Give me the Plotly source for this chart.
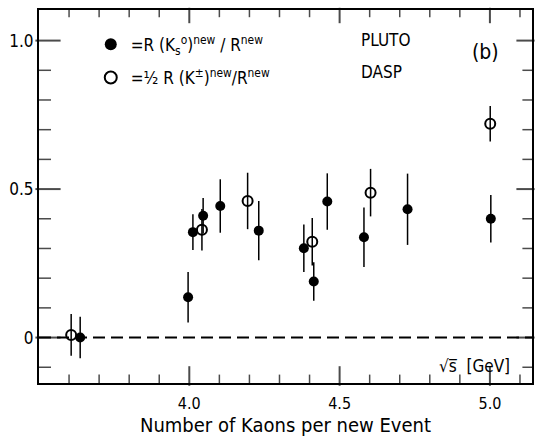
import plotly.graph_objects as go

# sqrt(s) [GeV] and values
ks_x = [3.637, 3.996, 4.012, 4.046, 4.103, 4.231, 4.381, 4.414, 4.459, 4.581, 4.726, 5.003]
ks_y = [0.00, 0.136, 0.355, 0.41, 0.443, 0.36, 0.301, 0.189, 0.458, 0.338, 0.432, 0.40]
ks_err = [0.07, 0.085, 0.06, 0.06, 0.09, 0.10, 0.08, 0.065, 0.095, 0.10, 0.12, 0.08]

kc_x = [3.607, 4.042, 4.194, 4.409, 4.603, 5.001]
kc_y = [0.009, 0.363, 0.46, 0.323, 0.488, 0.72]
kc_err = [0.07, 0.07, 0.095, 0.08, 0.08, 0.06]

xtick_vals = [4.0, 4.5, 5.0]
xtick_text = ["4.0", "4.5", "5.0"]
xminor_vals = [3.6, 3.7, 3.8, 3.9, 4.1, 4.2, 4.3, 4.4, 4.6, 4.7, 4.8, 4.9, 5.1]
ytick_vals = [0, 0.5, 1.0]
ytick_text = ["0", "0.5", "1.0"]
yminor_vals = [-0.1, 0.1, 0.2, 0.3, 0.4, 0.6, 0.7, 0.8, 0.9]

FONT = "DejaVu Sans Condensed, Liberation Sans Narrow, Arial Narrow, DejaVu Sans, sans-serif"

W, H = 537, 443
ML, MR, MT, MB = 39, 5, 10, 60
PW, PH = W - ML - MR, H - MT - MB
XR = [3.5, 5.14]
YR = [-0.153, 1.103]
XPX = (XR[1] - XR[0]) / PW
YPX = (YR[1] - YR[0]) / PH

fig = go.Figure()
fig.add_trace(go.Scatter(
    x=ks_x, y=ks_y, mode="markers", legendgroup="a",
    name="=R (K<sub>s</sub><sup>o</sup>)<sup>new</sup> / R<sup>new</sup>",
    marker=dict(symbol="circle", size=10, color="black"),
    error_y=dict(type="data", array=ks_err, color="black", thickness=1.5, width=0),
))
fig.add_trace(go.Scatter(
    x=kc_x, y=kc_y, mode="markers", legendgroup="b",
    name="=½ R (K<sup>±</sup>)<sup>new</sup>/R<sup>new</sup>",
    marker=dict(symbol="circle-open", size=10, color="black", line=dict(width=2)),
    error_y=dict(type="data", array=kc_err, color="black", thickness=1.5, width=0),
))

# inward tick marks on all four sides, as line-shaped markers on the axis scales
def x_ticks(vals, lb, lt, w):
    fig.add_trace(go.Scatter(
        x=list(vals) + list(vals),
        y=[YR[0] + lb / 2 * YPX] * len(vals) + [YR[1] - lt / 2 * YPX] * len(vals),
        mode="markers", showlegend=False, hoverinfo="skip", cliponaxis=False,
        marker=dict(symbol="line-ns", size=[lb] * len(vals) + [lt] * len(vals),
                    color="black", line=dict(color="black", width=w))))

def y_ticks(vals, ll, lr, w):
    fig.add_trace(go.Scatter(
        y=list(vals) + list(vals),
        x=[XR[0] + ll / 2 * XPX] * len(vals) + [XR[1] - lr / 2 * XPX] * len(vals),
        mode="markers", showlegend=False, hoverinfo="skip", cliponaxis=False,
        marker=dict(symbol="line-ew", size=[ll] * len(vals) + [lr] * len(vals),
                    color="black", line=dict(color="black", width=w))))

x_ticks(xtick_vals, 14, 11, 2)
x_ticks(xminor_vals, 7, 6, 1.5)
y_ticks(ytick_vals, 18, 13, 2)
y_ticks(yminor_vals, 10, 8, 1.5)

# zero reference line
fig.add_shape(type="line", xref="paper", x0=0, x1=1, yref="y", y0=0, y1=0,
              line=dict(color="black", width=2, dash="12px,6px"))

fig.add_annotation(xref="paper", yref="paper", x=0.65, y=0.92, xanchor="left", yanchor="middle",
                   text="PLUTO", showarrow=False, font=dict(family=FONT, size=17, color="black"))
fig.add_annotation(xref="paper", yref="paper", x=0.65, y=0.834, xanchor="left", yanchor="middle",
                   text="DASP", showarrow=False, font=dict(family=FONT, size=17, color="black"))
fig.add_annotation(xref="paper", yref="paper", x=0.875, y=0.887, xanchor="left", yanchor="middle",
                   text="(b)", showarrow=False, font=dict(family=FONT, size=21, color="black"))
fig.add_annotation(xref="paper", yref="paper", x=0.96, y=0.045, xanchor="right", yanchor="middle",
                   text="√s̅  [GeV]", showarrow=False, font=dict(family=FONT, size=17, color="black"))

fig.update_layout(
    width=W, height=H,
    margin=dict(l=ML, r=MR, t=MT, b=MB),
    paper_bgcolor="white", plot_bgcolor="white",
    showlegend=True,
    legend=dict(x=0.105, y=0.955, xanchor="left", yanchor="top", bgcolor="rgba(0,0,0,0)",
                font=dict(family=FONT, size=17, color="black"), tracegroupgap=8,
                itemwidth=30, itemsizing="constant"),
    font=dict(family=FONT, color="black"),
)
fig.update_xaxes(
    range=XR, showgrid=False, zeroline=False, automargin=False,
    showline=True, linecolor="black", linewidth=2, mirror=True,
    ticks="", tickmode="array", tickvals=xtick_vals, ticktext=xtick_text,
    ticklabelstandoff=5,
    tickfont=dict(family=FONT, size=16, color="black"),
    title=dict(text="Number of Kaons per new Event", font=dict(family=FONT, size=20, color="black"), standoff=6),
)
fig.update_yaxes(
    range=YR, showgrid=False, zeroline=False, automargin=False,
    showline=True, linecolor="black", linewidth=2, mirror=True,
    ticks="", tickmode="array", tickvals=ytick_vals, ticktext=ytick_text,
    tickfont=dict(family=FONT, size=17, color="black"),
)

fig.write_html("out.html")
